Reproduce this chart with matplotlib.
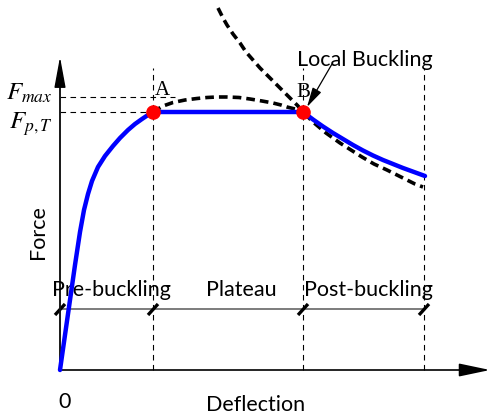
import matplotlib
matplotlib.use("Agg")
import matplotlib.pyplot as plt

plt.rcParams['mathtext.fontset'] = 'stix'

# ---- data (schematic units: deflection, force) ----
pre_x = [0, 5, 10, 15, 20, 24, 28, 32, 38, 45, 53, 60, 68, 75, 82, 88, 93]
pre_y = [0, 35, 70, 105, 138, 160, 176, 189, 203, 214, 224, 232, 240, 246, 251, 255, 258]
plateau_x = [93, 243]
plateau_y = [258, 258]
post_x = [243, 253, 263, 273, 283, 293, 303, 313, 323, 333, 343, 354, 365]
post_y = [258, 250.5, 243.5, 237, 231, 225, 219.5, 214.5, 210, 206, 202, 198, 194]
cap_x = [93, 103, 113, 125, 137, 147, 157, 167, 179, 190, 202, 213, 221, 227, 235, 243]
cap_y = [258, 264, 267.5, 270, 271.5, 272.5, 273, 273, 272.5, 271, 269, 267, 265, 263, 261, 258]
elastic_x = [158, 163, 167, 173, 180, 186, 193, 200, 207, 214, 220, 226, 232, 238, 243,
             253, 266, 280, 291, 302, 314, 327, 337, 347, 355, 363]
elastic_y = [362, 352, 345, 336, 327, 318, 310, 302, 295, 288, 282, 276, 270, 264, 258,
             248, 237, 227, 220, 213, 206, 200, 195, 190, 186, 183]
key_x = [93, 243]
key_y = [258, 258]
key_labels = ['A', 'B']
F_max = 273
F_pT = 258
phase_x = [0, 93, 243, 364]
phase_names = ['Pre-buckling', 'Plateau', 'Post-buckling']
phase_centers = [51, 181, 308]
phase_level = 61

fig = plt.figure(figsize=(4.91, 4.17), dpi=100)
ax = fig.add_axes([0, 0, 1, 1])
ax.set_xlim(-60, 431)
ax.set_ylim(-47, 370)
ax.axis('off')

sans = ['Lato', 'DejaVu Sans']
fs = 15.5

# vertical dashed guides
for xv in phase_x[1:]:
    ax.plot([xv, xv], [0, 302], color='black', lw=0.8, ls=(0, (5, 4)))
# horizontal dashed guides
ax.plot([0, 115], [F_max, F_max], color='black', lw=0.8, ls=(0, (5, 4)))
ax.plot([0, key_x[0]], [F_pT, F_pT], color='black', lw=0.8, ls=(0, (5, 4)))

# phase line
ax.plot([phase_x[0], phase_x[-1]], [phase_level, phase_level], color='#666666', lw=1.2)
for xv in phase_x:
    ax.plot([xv - 5, xv + 5], [phase_level - 6, phase_level + 5], color='black', lw=2.4,
            solid_capstyle='butt')
for c, name in zip(phase_centers, phase_names):
    ax.text(c, phase_level + 13, name, family=sans, fontsize=fs, ha='center', va='baseline')

# axes arrows
ax.annotate('', xy=(0, 313), xytext=(0, 0),
            arrowprops=dict(arrowstyle='-|>,head_length=1.9,head_width=0.35', color='black',
                            lw=1.0, shrinkA=0, shrinkB=0))
ax.plot([0, 0], [0, 300], color='#444444', lw=1.2)
ax.annotate('', xy=(430, 0), xytext=(0, 0),
            arrowprops=dict(arrowstyle='-|>,head_length=1.9,head_width=0.4', color='black',
                            lw=1.2, shrinkA=0, shrinkB=0))

# curves
ax.plot(elastic_x, elastic_y, color='black', lw=2.6, ls=(0, (2.4, 1.4)), dash_capstyle='butt', zorder=3)
ax.plot(cap_x, cap_y, color='black', lw=2.6, ls=(0, (2.4, 1.4)), dash_capstyle='butt', zorder=3)
ax.plot(pre_x, pre_y, color='blue', lw=3.2, solid_capstyle='round', zorder=4)
ax.plot(plateau_x, plateau_y, color='blue', lw=3.2, zorder=4)
ax.plot(post_x, post_y, color='blue', lw=3.2, solid_capstyle='round', zorder=4)
ax.plot(key_x, key_y, 'o', color='red', ms=9.5, zorder=5)

ax.text(key_x[0] + 2, key_y[0] + 12, key_labels[0], fontsize=15,
        ha='left', va='bottom', fontname='Liberation Serif')
ax.text(key_x[1] - 7, key_y[1] + 10, key_labels[1], fontsize=15,
        ha='left', va='bottom', fontname='Liberation Serif')

# local buckling annotation
ax.annotate('', xy=(key_x[1] + 4, key_y[1] + 5), xytext=(272, 306),
            arrowprops=dict(arrowstyle='-|>,head_length=1.2,head_width=0.3', color='black',
                            lw=0.9, shrinkA=0, shrinkB=0))
ax.text(305, 304, 'Local Buckling', family=sans, fontsize=fs, ha='center', va='baseline')

# y labels
ax.text(-7, F_max - 3, r'$F_{max}$', fontsize=18, ha='right', va='baseline')
ax.text(-7, F_pT - 17, r'$F_{p,T}$', fontsize=18, ha='right', va='baseline')

ax.text(-22, 138, 'Force', family=sans, fontsize=fs, rotation=90, ha='center', va='center')
ax.text(5, -32, '0', family=sans, fontsize=fs, ha='center', va='center')
ax.text(196, -35, 'Deflection', family=sans, fontsize=fs, ha='center', va='center')

fig.savefig('out.png', dpi=100)
